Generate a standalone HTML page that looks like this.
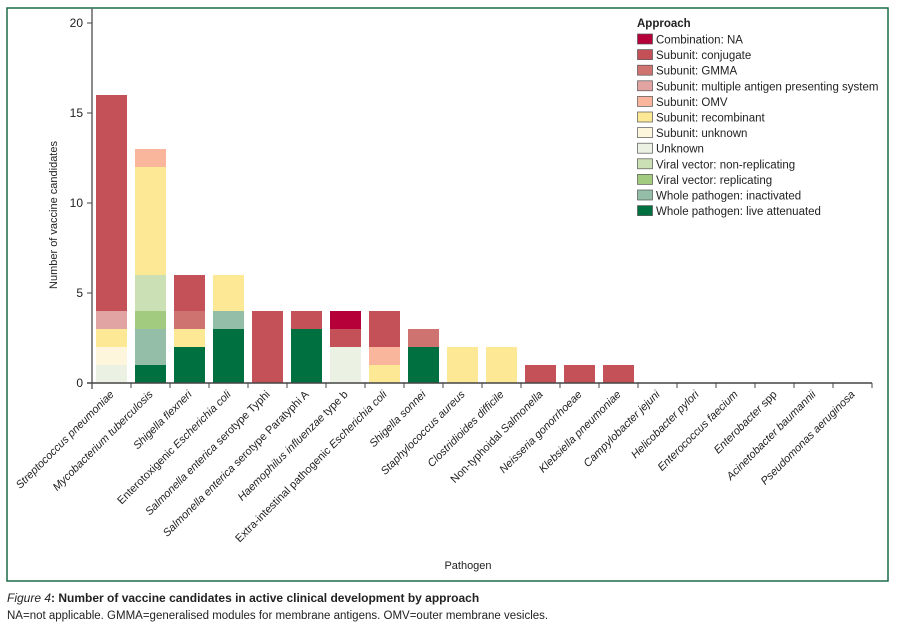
<!DOCTYPE html>
<html><head><meta charset="utf-8"><style>
body{margin:0;background:#fff;width:897px;height:630px;overflow:hidden;font-family:"Liberation Sans",sans-serif}
svg text{font-family:"Liberation Sans",sans-serif}
</style></head><body>
<svg id="c" width="897" height="630">
<rect x="7" y="8" width="881" height="573" fill="none" stroke="#1a6b48" stroke-width="1.5"/>
<text x="45" y="203" font-size="11" fill="#222" transform="rotate(-90 57 203)" text-anchor="middle">Number of vaccine candidates</text>
<text x="468" y="569" font-size="11" fill="#222" text-anchor="middle">Pathogen</text>
<text x="7" y="602" font-size="12" font-weight="bold" fill="#222"><tspan font-style="italic" font-weight="normal">Figure 4</tspan>: Number of vaccine candidates in active clinical development by approach</text>
<text x="7" y="619" font-size="11.5" fill="#222">NA=not applicable. GMMA=generalised modules for membrane antigens. OMV=outer membrane vesicles.</text>
<g id="plot"></g>
<g id="legend"></g>
</svg>
<script>
const categories=[["i:Streptococcus pneumoniae"],["i:Mycobacterium tuberculosis"],["i:Shigella flexneri"],["n:Enterotoxigenic ","i:Escherichia coli"],["i:Salmonella enterica ","n:serotype Typhi"],["i:Salmonella enterica ","n:serotype Paratyphi A"],["i:Haemophilus influenzae ","n:type b"],["n:Extra-intestinal pathogenic ","i:Escherichia coli"],["i:Shigella sonnei"],["i:Staphylococcus aureus"],["i:Clostridioides difficile"],["n:Non-typhoidal ","i:Salmonella"],["i:Neisseria gonorrhoeae"],["i:Klebsiella pneumoniae"],["i:Campylobacter jejuni"],["i:Helicobacter pylori"],["i:Enterococcus faecium"],["i:Enterobacter ","n:spp"],["i:Acinetobacter baumannii"],["i:Pseudomonas aeruginosa"]];
const seriesNames=["Combination: NA","Subunit: conjugate","Subunit: GMMA","Subunit: multiple antigen presenting system","Subunit: OMV","Subunit: recombinant","Subunit: unknown","Unknown","Viral vector: non-replicating","Viral vector: replicating","Whole pathogen: inactivated","Whole pathogen: live attenuated"];
const seriesColors=["#b5003a","#c45157","#cf7370","#e2a4a3","#f9b69c","#fde995","#fdf6dd","#ebf2e4","#cce0b6","#a3cb80","#94bea8","#007040"];
const combination=[0,0,0,0,0,0,1,0,0,0,0,0,0,0,0,0,0,0,0,0];
const conjugate=  [12,0,2,0,4,1,1,2,0,0,0,1,1,1,0,0,0,0,0,0];
const gmma=       [0,0,1,0,0,0,0,0,1,0,0,0,0,0,0,0,0,0,0,0];
const maps=       [1,0,0,0,0,0,0,0,0,0,0,0,0,0,0,0,0,0,0,0];
const omv=        [0,1,0,0,0,0,0,1,0,0,0,0,0,0,0,0,0,0,0,0];
const recombinant=[1,6,1,2,0,0,0,1,0,2,2,0,0,0,0,0,0,0,0,0];
const subunitUnknown=[1,0,0,0,0,0,0,0,0,0,0,0,0,0,0,0,0,0,0,0];
const unknown=    [1,0,0,0,0,0,2,0,0,0,0,0,0,0,0,0,0,0,0,0];
const viralNonRep=[0,2,0,0,0,0,0,0,0,0,0,0,0,0,0,0,0,0,0,0];
const viralRep=   [0,1,0,0,0,0,0,0,0,0,0,0,0,0,0,0,0,0,0,0];
const inactivated=[0,2,0,1,0,0,0,0,0,0,0,0,0,0,0,0,0,0,0,0];
const live=       [0,1,2,3,0,3,0,0,2,0,0,0,0,0,0,0,0,0,0,0];
const yTicks=[0,5,10,15,20];
const series=[combination,conjugate,gmma,maps,omv,recombinant,subunitUnknown,unknown,viralNonRep,viralRep,inactivated,live];
const NS="http://www.w3.org/2000/svg";
const x0=92,step=39,bw=31,yBase=383,yTop=23,yMax=20;
const y=v=>yBase-(v/yMax)*(yBase-yTop);
const xc=i=>x0+step*(i+0.5);
const plot=document.getElementById('plot');
function mk(t,a,p){const e=document.createElementNS(NS,t);for(const k in a)e.setAttribute(k,a[k]);(p||plot).appendChild(e);return e;}
// bars, bottom = live attenuated
categories.forEach((c,i)=>{
  let acc=0;
  for(let s=series.length-1;s>=0;s--){
    const v=series[s][i]; if(!v) continue;
    const r=mk('rect',{x:xc(i)-bw/2,y:y(acc+v),width:bw,height:y(acc)-y(acc+v),fill:seriesColors[s]});
    
    
    acc+=v;
  }
});
// axes
const ya=mk('line',{x1:x0,y1:yTop-15,x2:x0,y2:yBase+6,stroke:'#666','stroke-width':1.5});


const xa=mk('line',{x1:x0-5,y1:yBase,x2:x0+step*categories.length,y2:yBase,stroke:'#444','stroke-width':1.5});


yTicks.forEach(t=>{
  mk('line',{x1:x0-5,y1:y(t),x2:x0,y2:y(t),stroke:'#444'});
  const tx=mk('text',{x:x0-9,y:y(t)+4,'font-size':12,fill:'#222','text-anchor':'end'});
  tx.textContent=t;
  
  
});
categories.forEach((c,i)=>{
  mk('line',{x1:x0+step*(i+1),y1:yBase,x2:x0+step*(i+1),y2:yBase+5,stroke:'#444'});
  const tx=mk('text',{x:xc(i)+3,y:yBase+12,'font-size':11,fill:'#222','text-anchor':'end',transform:`rotate(-45 ${xc(i)+3} ${yBase+12})`});
  
  
  c.forEach(p=>{const ts=mk('tspan',{},tx);if(p[0]==='i')ts.setAttribute('font-style','italic');ts.textContent=p.slice(2);});
});
// legend
const lg=document.getElementById('legend');
const lt=mk('text',{x:637,y:27,'font-size':11.5,'font-weight':'bold',fill:'#222'},lg);
lt.textContent='Approach';


seriesNames.forEach((n,k)=>{
  const yy=34+k*15.6;
  const g=mk('g',{},lg);
  
  
  mk('rect',{x:637.5,y:yy,width:15,height:10,fill:seriesColors[k],stroke:'#555','stroke-width':0.7},g);
  const t=mk('text',{x:656,y:yy+9.5,'font-size':11.5,fill:'#222'},g);
  t.textContent=n;
});
</script>
</body></html>
